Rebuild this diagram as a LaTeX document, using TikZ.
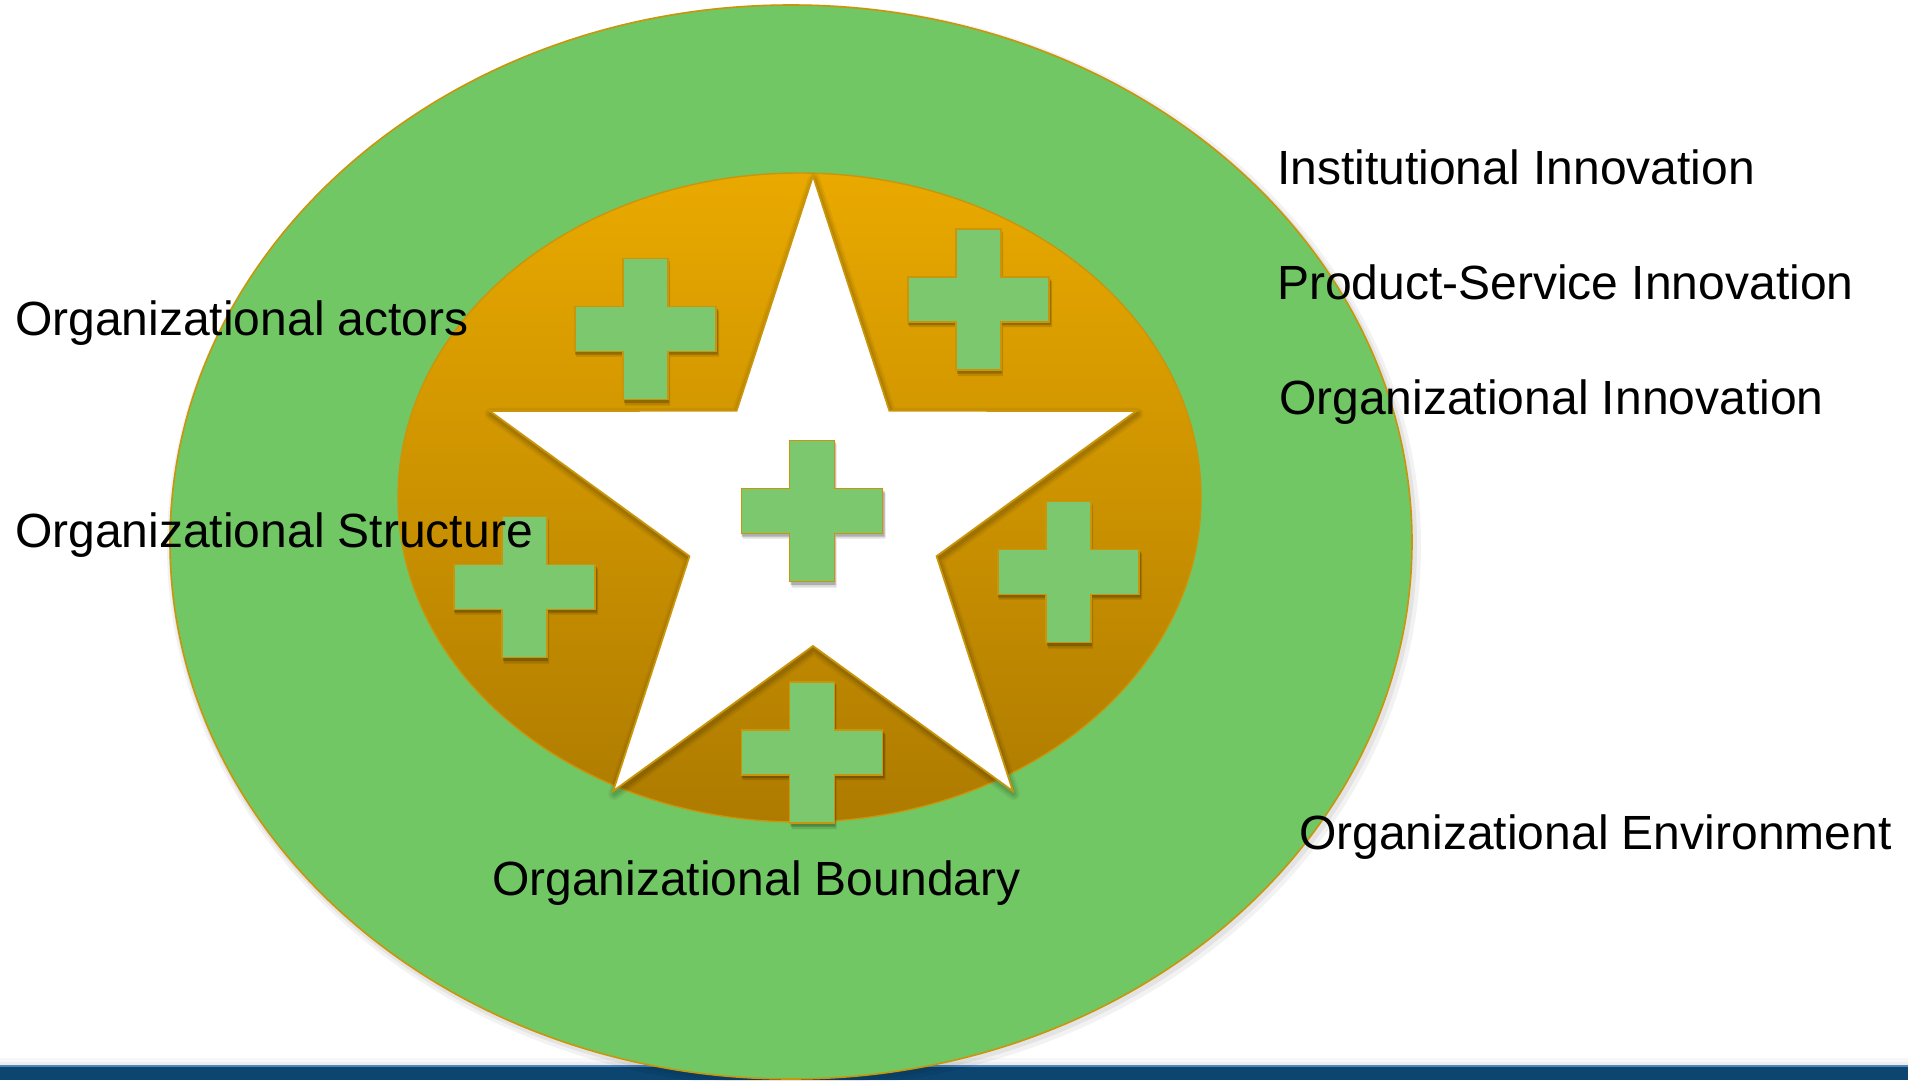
\documentclass[tikz,border=0pt]{standalone}
\usepackage{fontspec}
\setmainfont{Liberation Sans}
\definecolor{envgreen}{HTML}{72C765}
\definecolor{crossgreen}{HTML}{7BC86E}
\definecolor{goldline}{HTML}{C9950A}
\definecolor{orangetop}{HTML}{E9A900}
\definecolor{orangebot}{HTML}{AE7B00}
\definecolor{barblue}{HTML}{0B4570}
\definecolor{barlight}{HTML}{4F86C0}
\tikzset{
  lbl/.style={inner sep=0pt, anchor=base west, text=black, font=\fontsize{48}{58}\selectfont},
  crossshape/.style={fill=crossgreen, draw=goldline, line width=1.6pt, line join=miter},
  plussign/.pic={
    \fill[black, opacity=0.12] (-20.5,-67.5) -- (24.5,-67.5) -- (24.5,-18.5) -- (73.5,-18.5) -- (73.5,27.5) -- (24.5,27.5) -- (24.5,76.5) -- (-20.5,76.5) -- (-20.5,27.5) -- (-69.5,27.5) -- (-69.5,-18.5) -- (-20.5,-18.5) -- cycle;
    \fill[black, opacity=0.22] (-21.5,-69) -- (23.5,-69) -- (23.5,-20) -- (72.5,-20) -- (72.5,25.5) -- (23.5,25.5) -- (23.5,74) -- (-21.5,74) -- (-21.5,25.5) -- (-70.5,25.5) -- (-70.5,-20) -- (-21.5,-20) -- cycle;
    \path[crossshape] (-22.5,-70.5) -- (22.5,-70.5) -- (22.5,-22.5) -- (70.5,-22.5) -- (70.5,22.5) -- (22.5,22.5) -- (22.5,70.5) -- (-22.5,70.5) -- (-22.5,22.5) -- (-70.5,22.5) -- (-70.5,-22.5) -- (-22.5,-22.5) -- cycle;
  }
}
\begin{document}
\begin{tikzpicture}[x=1pt,y=-1pt]
\useasboundingbox (0,0) rectangle (1908,1080);
\fill[white] (0,0) rectangle (1908,1080);
% bottom bar with soft shadow
\fill[black, opacity=0.03] (0,1058) rectangle (1908,1066);
\fill[black, opacity=0.04] (0,1062) rectangle (1908,1066);
\fill[barblue] (0,1066) rectangle (1908,1080);
\fill[barlight] (0,1064.5) rectangle (1908,1067);
% outer ellipse shadow
\fill[black, opacity=0.05] (794,546) ellipse [x radius=627, y radius=542];
\fill[black, opacity=0.06] (793,545) ellipse [x radius=624, y radius=539];
% outer ellipse (environment)
\path[fill=envgreen, draw=goldline, line width=1.6pt] (791,542) ellipse [x radius=621, y radius=537];
% inner ellipse (boundary)
\shade[top color=orangetop, bottom color=orangebot] (799.5,497.5) ellipse [x radius=401.5, y radius=324.5];
\draw[goldline, line width=1.4pt] (799.5,497.5) ellipse [x radius=401.5, y radius=324.5];
% star shadow
\begin{scope}[shift={(1,3)}]
\foreach \w/\o in {12/0.05, 8/0.07, 4/0.09}{
  \draw[black, opacity=\o, line width=\w pt, line join=round] (813,176) -- (889.4,410.8) -- (1136.4,410.9) -- (936.6,556.2) -- (1012.9,791.1) -- (813,646) -- (613.1,791.1) -- (689.4,556.2) -- (489.6,410.9) -- (736.6,410.8) -- cycle;
}
\end{scope}
% star
\path[fill=white, draw=goldline, line width=1.8pt, line join=miter] (813,176) -- (889.4,410.8) -- (1136.4,410.9) -- (936.6,556.2) -- (1012.9,791.1) -- (813,646) -- (613.1,791.1) -- (689.4,556.2) -- (489.6,410.9) -- (736.6,410.8) -- cycle;
% crosses
\pic at (645.5,329) {plussign};
\pic at (978.5,299.5) {plussign};
\pic at (812,511) {plussign};
\pic at (524.5,587) {plussign};
\pic at (1068.5,572) {plussign};
\pic at (812,752.5) {plussign};
% labels
\node[lbl] (actors) at (15,335) {Organizational actors};
\node[lbl] (structure) at (15,547) {Organizational Structure};
\node[lbl] (boundary) at (492,895) {Organizational Boundary};
\node[lbl] (institutional) at (1277,184) {Institutional Innovation};
\node[lbl] (product) at (1277,299) {Product-Service Innovation};
\node[lbl] (orginno) at (1279,414) {Organizational Innovation};
\node[lbl] (environment) at (1299,849) {Organizational Environment};
\end{tikzpicture}
\end{document}
